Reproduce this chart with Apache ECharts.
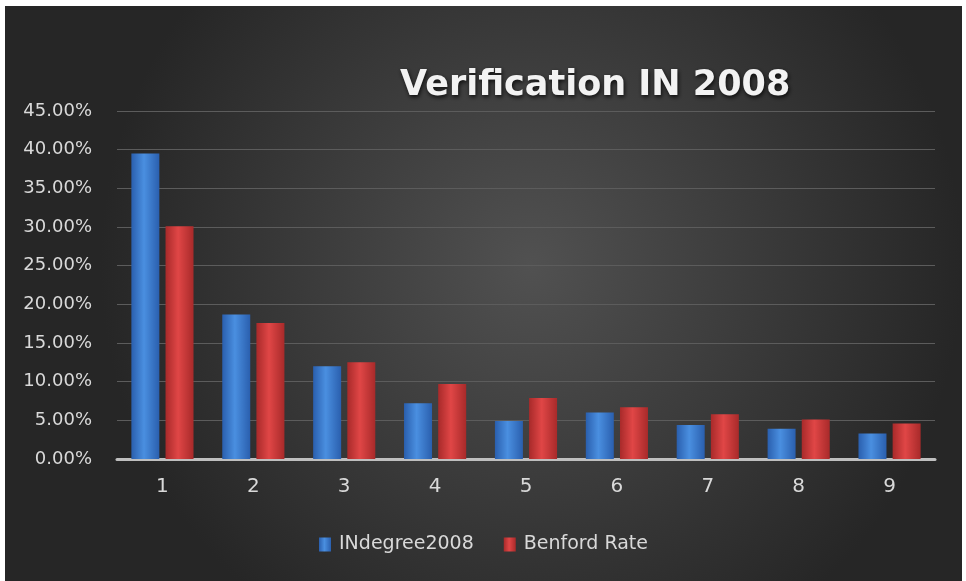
<!DOCTYPE html>
<html>
<head>
<meta charset="utf-8">
<script src="https://cdn.jsdelivr.net/npm/echarts@6/dist/echarts.min.js"></script>
<style>
  html, body { margin: 0; padding: 0; background: #ffffff; }
  #chart { position: absolute; left: 5px; top: 6px; width: 957px; height: 575px; }
</style>
</head>
<body>
<div id="chart"></div>
<script>
// data
var digits = ['1', '2', '3', '4', '5', '6', '7', '8', '9'];
var indegree2008 = [39.5, 18.7, 12.0, 7.2, 4.9, 6.0, 4.4, 3.9, 3.3];
var benfordRate = [30.1, 17.6, 12.5, 9.7, 7.9, 6.7, 5.8, 5.1, 4.6];
var seriesNames = ['INdegree2008', 'Benford Rate'];

var FONT = 'DejaVu Sans';

function barGradient(dark, light) {
    return new echarts.graphic.LinearGradient(0, 0, 1, 0, [
        { offset: 0, color: dark },
        { offset: 0.45, color: light },
        { offset: 1, color: dark }
    ]);
}

var chart = echarts.init(document.getElementById('chart'));

var option = {
    backgroundColor: new echarts.graphic.RadialGradient(0.55, 0.45, 0.75, [
        { offset: 0, color: '#515151' },
        { offset: 1, color: '#262626' }
    ]),
    title: {
        text: 'Verification IN 2008',
        left: 390,
        top: 57,
        textStyle: {
            color: '#f2f2f2',
            fontFamily: FONT,
            fontWeight: 'bold',
            fontSize: 35,
            textShadowColor: 'rgba(0,0,0,0.8)',
            textShadowBlur: 4,
            textShadowOffsetX: 1,
            textShadowOffsetY: 2
        }
    },
    legend: {
        data: seriesNames,
        bottom: 22,
        left: 'center',
        itemWidth: 12,
        itemHeight: 14,
        itemGap: 30,
        icon: 'rect',
        textStyle: { color: '#d9d9d9', fontFamily: FONT, fontSize: 19, padding: [0, 0, 0, 3] }
    },
    grid: {
        left: 112,
        right: 27,
        top: 105,
        bottom: 122
    },
    xAxis: {
        type: 'category',
        data: digits,
        axisLine: { lineStyle: { color: '#bfbfbf', width: 3 } },
        axisTick: { show: false },
        axisLabel: { color: '#d9d9d9', fontFamily: FONT, fontSize: 20, margin: 18 }
    },
    yAxis: {
        type: 'value',
        min: 0,
        max: 45,
        interval: 5,
        axisLine: { show: false },
        axisTick: { show: false },
        splitLine: { lineStyle: { color: '#5c5c5c', width: 1 } },
        axisLabel: {
            color: '#d9d9d9',
            fontFamily: FONT,
            fontSize: 18,
            margin: 25,
            formatter: function (v) { return v.toFixed(2) + '%'; }
        }
    },
    series: [
        {
            name: seriesNames[0],
            type: 'bar',
            data: indegree2008,
            barWidth: 28,
            barGap: '22%',
            itemStyle: {
                color: barGradient('#2a5fae', '#4a8fe0'),
                shadowColor: 'rgba(0,0,0,0.5)',
                shadowBlur: 4,
                shadowOffsetX: 2
            }
        },
        {
            name: seriesNames[1],
            type: 'bar',
            data: benfordRate,
            barWidth: 28,
            itemStyle: {
                color: barGradient('#a82a2a', '#e04646'),
                shadowColor: 'rgba(0,0,0,0.5)',
                shadowBlur: 4,
                shadowOffsetX: 2
            }
        }
    ]
};

chart.setOption(option);
</script>
</body>
</html>
